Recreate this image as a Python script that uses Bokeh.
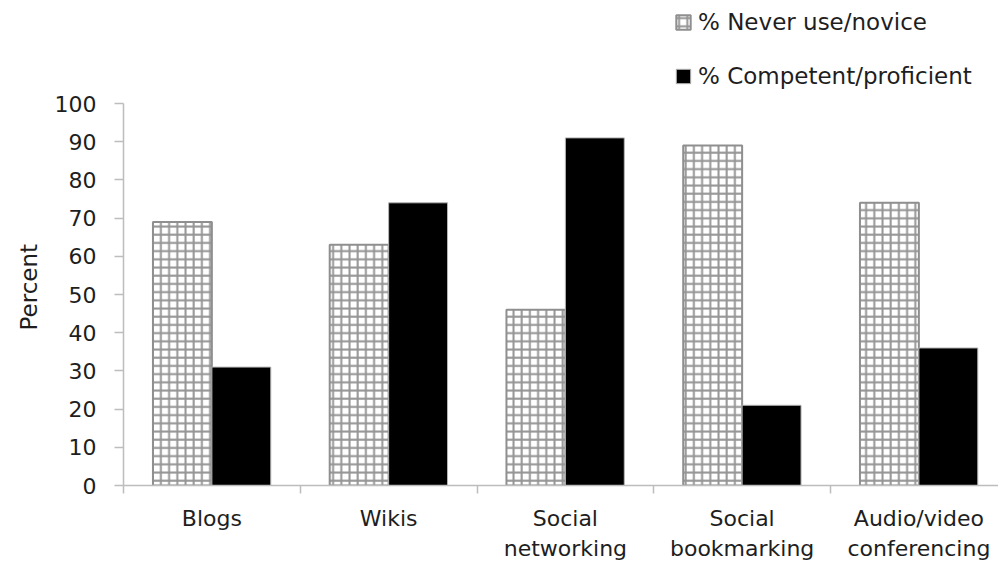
from bokeh.plotting import figure
from bokeh.models import ColumnDataSource, FixedTicker, Range1d, Legend, LegendItem, Title
from bokeh.embed import file_html
from bokeh.resources import INLINE

# ---- data ----
categories = ["Blogs", "Wikis", "Social\nnetworking", "Social\nbookmarking", "Audio/video\nconferencing"]
never_novice = [69, 63, 46, 89, 74]
competent = [31, 74, 91, 21, 36]
series_names = ["% Never use/novice", "% Competent/proficient"]
y_ticks = [0, 10, 20, 30, 40, 50, 60, 70, 80, 90, 100]
y_label = "Percent"

FONT = "DejaVu Sans"
TXT = "#1e1e1e"
AX = "#bdbdbd"

centers = [i + 0.5 for i in range(len(categories))]
bar_w = 1.0 / 3.0
src = ColumnDataSource(dict(
    x_never=[c - bar_w / 2 for c in centers],
    x_comp=[c + bar_w / 2 for c in centers],
    never=never_novice,
    comp=competent,
))

W, H = 998, 568
border_left, border_bottom, border_top = 123, 83, 0
frame_w = W - border_left
frame_h = H - border_bottom - border_top
cat_px = 176.75
unit_px = 3.82

p = figure(width=W, height=H, output_backend="svg", toolbar_location=None,
           x_range=Range1d(0, frame_w / cat_px), y_range=Range1d(0, frame_h / unit_px),
           min_border_left=border_left, min_border_right=0, min_border_top=border_top,
           min_border_bottom=border_bottom, background_fill_color="white",
           border_fill_color="white")
p.outline_line_color = None
p.grid.visible = False

r1 = p.vbar(x="x_never", top="never", bottom=0, width=bar_w, source=src,
            fill_color="white", line_color="#8f8f8f", line_width=2,
            hatch_pattern="+", hatch_color="#959595", hatch_weight=2, hatch_scale=8.2)
r2 = p.vbar(x="x_comp", top="comp", bottom=0, width=bar_w, source=src,
            fill_color="black", line_color="#b5b5b5", line_width=1)

# y axis
ya = p.yaxis[0]
ya.ticker = FixedTicker(ticks=y_ticks)
ya.bounds = (0, 100)
ya.major_label_text_font = FONT
ya.major_label_text_font_size = "22px"
ya.major_label_text_color = TXT
ya.major_label_standoff = 18
ya.major_tick_in = 0
ya.major_tick_out = 9
ya.minor_tick_line_color = None
ya.axis_line_color = AX
ya.axis_line_width = 1.5
ya.major_tick_line_color = AX
ya.major_tick_line_width = 1.5

# y axis title, placed along the 0..100 span
ytitle = Title(text=y_label, align="left", offset=155, standoff=20,
               text_font=FONT, text_font_size="23px", text_font_style="normal",
               text_color=TXT)
p.add_layout(ytitle, "left")

# x axis
xa = p.xaxis[0]
xa.ticker = FixedTicker(ticks=centers, minor_ticks=list(range(len(categories) + 1)))
xa.major_label_overrides = {c: lab for c, lab in zip(centers, categories)}
xa.bounds = (0, len(categories))
xa.major_label_text_font = FONT
xa.major_label_text_font_size = "22px"
xa.major_label_text_color = TXT
xa.major_label_standoff = 12
xa.major_tick_line_color = None
xa.major_tick_in = 0
xa.major_tick_out = 0
xa.minor_tick_in = 0
xa.minor_tick_out = 8
xa.minor_tick_line_color = AX
xa.minor_tick_line_width = 1.5
xa.axis_line_color = AX
xa.axis_line_width = 1.5

legend = Legend(items=[LegendItem(label=series_names[0], renderers=[r1]),
                       LegendItem(label=series_names[1], renderers=[r2])],
                location=(551, 396), orientation="vertical",
                glyph_width=18, glyph_height=18, label_height=18, spacing=28,
                padding=0, margin=0, border_line_color=None, background_fill_alpha=0,
                label_text_font=FONT, label_text_font_size="23px", label_text_color=TXT,
                label_standoff=6)
p.add_layout(legend)

open("out.html", "w").write(file_html(p, INLINE))
